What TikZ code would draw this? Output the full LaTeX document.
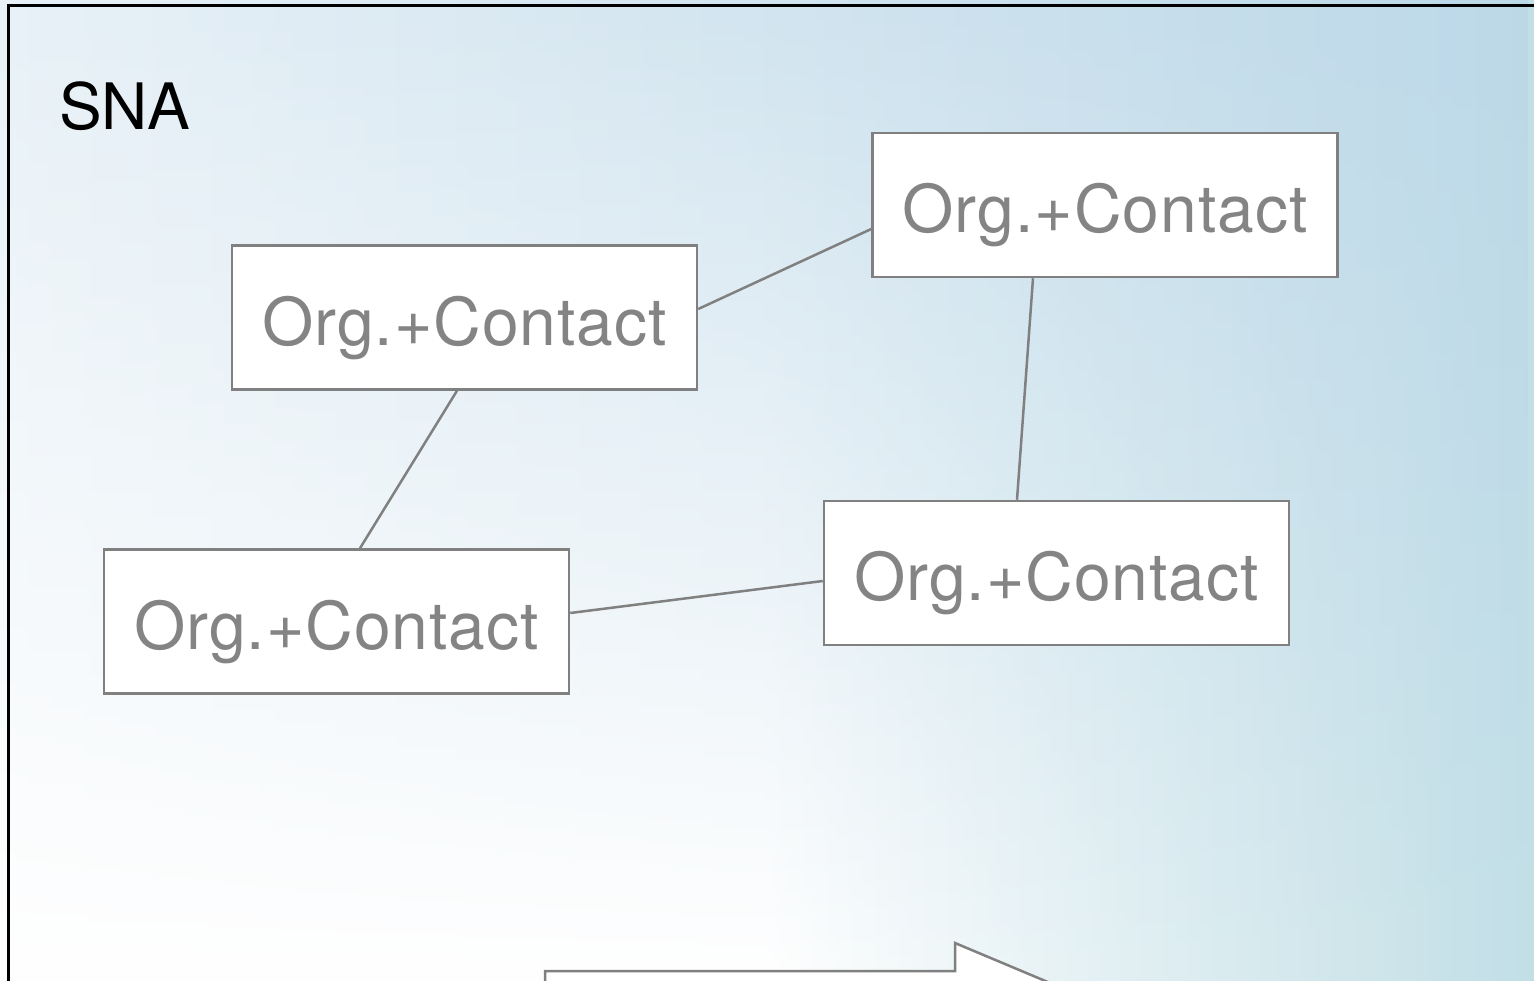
\documentclass[tikz,border=0pt]{standalone}
\usepackage{fontspec}
\setmainfont{TeX Gyre Heros}
\newfontfamily\boxfont{TeX Gyre Heros}[LetterSpace=1.5]
\usetikzlibrary{fadings}
\definecolor{bgblue}{RGB}{188,216,232}
\definecolor{bgteal}{RGB}{194,223,230}
\definecolor{bgpale}{RGB}{232,241,247}
\definecolor{boxgray}{RGB}{128,128,128}
\definecolor{textgray}{RGB}{132,132,132}
\pgfdeclarehorizontalshading{bottomprof}{100bp}{color(0bp)=(white); color(50bp)=(white); color(75bp)=(bgteal); color(100bp)=(bgteal)}
\pgfdeclarehorizontalshading{topprof}{100bp}{color(0bp)=(bgpale); color(25bp)=(bgpale); color(75bp)=(bgblue); color(100bp)=(bgblue)}
\begin{document}
\begin{tikzpicture}[x=1pt,y=-1pt,
  box/.style={draw=boxgray, line width=2.5pt, fill=white, minimum width=465pt, minimum height=144pt,
    inner sep=0pt, text=textgray, font=\boxfont\fontsize{66}{70}\selectfont, text height=55pt, text depth=0pt},
  link/.style={draw=boxgray, line width=2.5pt},
  frame/.style={draw=black, line width=3pt}]
\useasboundingbox (0,0) rectangle (1534,980);
\clip (0,0) rectangle (1534,980);
\shade[shading=bottomprof] (0,0) rectangle (1534,980);
\shade[shading=topprof, path fading=south] (0,0) rectangle (1534,980);
\draw[frame] (8,1100) -- (8,5) -- (1600,5);
\node[anchor=base west, inner sep=0pt, font=\fontsize{64}{70}\selectfont] (title) at (59,129) {SNA};
\node[box] (A) at (464.5,317.5) {Org.+Contact};
\node[box] (B) at (1105,205) {Org.+Contact};
\node[box] (C) at (336.5,621.5) {Org.+Contact};
\node[box] (D) at (1056.5,573) {Org.+Contact};
\draw[link] ([yshift=8.5pt]A.east) -- ([yshift=-24pt]B.west);
\draw[link] ([xshift=-7.5pt]A.south) -- ([xshift=23.5pt]C.north);
\draw[link] ([xshift=-72pt]B.south) -- ([xshift=-39.5pt]D.north);
\draw[link] ([yshift=8.5pt]C.east) -- ([yshift=-8pt]D.west);
\draw[draw=boxgray, line width=2.5pt, fill=white] (545,1100) -- (545,971) -- (955,971) -- (955,943) -- (1300,1088) -- cycle;
\end{tikzpicture}
\end{document}
